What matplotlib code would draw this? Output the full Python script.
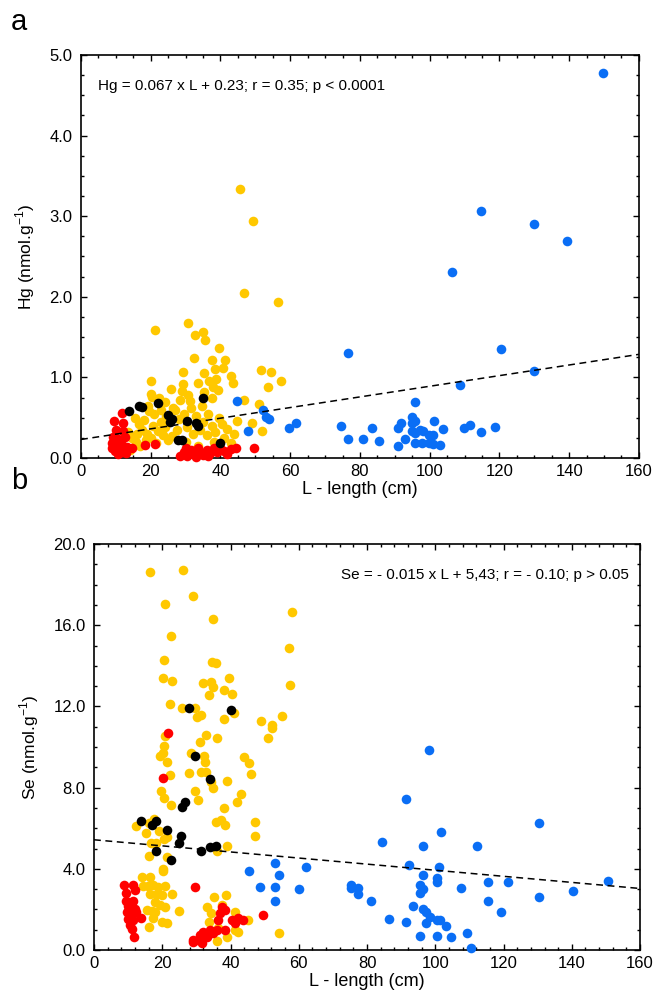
import matplotlib
matplotlib.use("Agg")
import matplotlib.pyplot as plt
from matplotlib.ticker import MultipleLocator, FormatStrFormatter

plt.rcParams["font.family"] = ["Liberation Sans", "DejaVu Sans"]

# ---- panel a: Hg vs length ----
a_yellow = [(45.6, 3.34), (49.3, 2.94), (46.7, 2.05), (56.6, 1.93), (21.1, 1.59), (30.8, 1.68),
            (32.8, 1.53), (34.9, 1.56), (35.6, 1.47), (39.7, 1.36), (32.4, 1.24), (37.6, 1.21),
            (41.2, 1.21), (40.8, 1.12), (38.4, 1.10), (29.2, 1.07), (35.2, 1.05), (51.7, 1.09),
            (54.5, 1.07), (42.9, 1.02), (20.1, 0.96), (38.7, 0.98), (36.8, 0.96), (33.6, 0.93),
            (29.3, 0.92), (43.7, 0.93), (57.3, 0.95), (53.7, 0.88), (25.9, 0.86), (37.8, 0.88),
            (39.2, 0.84), (29.0, 0.83), (35.3, 0.82), (20.1, 0.80), (30.8, 0.78), (20.4, 0.76),
            (37.6, 0.74), (22.4, 0.74), (46.8, 0.72), (31.3, 0.71), (34.8, 0.65), (19.3, 0.65),
            (51.0, 0.67), (51.8, 0.34), (48.9, 0.44), (44.8, 0.46), (26.0, 0.27),
            (15.5, 0.50), (16.5, 0.42), (17.5, 0.35), (18.2, 0.47), (19.0, 0.30), (20.5, 0.40),
            (21.0, 0.55), (22.0, 0.33), (23.0, 0.45), (24.0, 0.38), (14.5, 0.25), (15.8, 0.20),
            (17.0, 0.15), (18.5, 0.22), (20.0, 0.25), (21.5, 0.18), (23.5, 0.28), (24.5, 0.52),
            (27.0, 0.60), (28.0, 0.48), (29.5, 0.55), (30.5, 0.38), (31.5, 0.62), (32.0, 0.30),
            (33.0, 0.52), (34.0, 0.35), (35.0, 0.45), (36.0, 0.28), (36.5, 0.55), (37.5, 0.40),
            (38.5, 0.32), (39.5, 0.50), (40.5, 0.42), (41.0, 0.25), (42.0, 0.36), (43.0, 0.18),
            (30.0, 0.20), (33.5, 0.15), (27.5, 0.35), (26.5, 0.62), (22.8, 0.60), (19.5, 0.58),
            (16.0, 0.30), (13.5, 0.32), (25.0, 0.22), (38.0, 0.20), (44.0, 0.30), (28.5, 0.72),
            (24.0, 0.70), (12.5, 0.12), (14.0, 0.10)]
a_red = [(11.8, 0.56), (9.4, 0.46), (11.9, 0.44), (10.0, 0.35), (12.0, 0.33), (9.3, 0.26),
         (10.7, 0.24), (12.6, 0.26), (8.8, 0.18), (10.2, 0.16), (11.7, 0.16), (13.1, 0.14),
         (14.5, 0.12), (9.7, 0.09), (11.7, 0.08), (10.5, 0.05), (12.8, 0.06), (9.0, 0.12),
         (18.4, 0.16), (21.3, 0.17), (28.5, 0.03), (29.5, 0.08), (30.5, 0.02), (31.5, 0.10),
         (32.0, 0.05), (33.0, 0.01), (34.0, 0.08), (35.0, 0.04), (36.0, 0.10), (37.0, 0.06),
         (38.0, 0.12), (39.0, 0.07), (40.0, 0.13), (41.0, 0.09), (42.0, 0.05), (43.0, 0.11),
         (44.5, 0.13), (30.0, 0.12), (33.5, 0.12), (36.5, 0.02), (49.7, 0.12)]
a_black = [(13.9, 0.58), (16.7, 0.64), (17.4, 0.63), (22.2, 0.68), (35.1, 0.74), (25.0, 0.53),
           (26.0, 0.49), (25.5, 0.45), (27.9, 0.22), (28.9, 0.22), (30.5, 0.46), (33.0, 0.43),
           (33.6, 0.40), (39.9, 0.18)]
a_blue = [(149.6, 4.78), (114.6, 3.07), (129.9, 2.90), (139.5, 2.69), (106.5, 2.31), (76.7, 1.30),
          (120.5, 1.35), (129.9, 1.08), (108.6, 0.91), (95.7, 0.69), (59.7, 0.37), (61.7, 0.44),
          (74.6, 0.40), (76.7, 0.23), (80.8, 0.23), (83.5, 0.37), (85.5, 0.21), (90.8, 0.15),
          (90.8, 0.37), (91.7, 0.43), (92.8, 0.23), (94.8, 0.51), (95.7, 0.46), (94.8, 0.43),
          (94.8, 0.33), (95.7, 0.31), (97.2, 0.35), (98.0, 0.34), (95.7, 0.19), (97.7, 0.18),
          (99.8, 0.29), (101.0, 0.29), (99.8, 0.18), (101.0, 0.17), (102.9, 0.16), (101.2, 0.46),
          (103.7, 0.36), (109.7, 0.37), (111.7, 0.41), (114.6, 0.32), (118.6, 0.39), (44.8, 0.71),
          (52.2, 0.60), (53.0, 0.51), (53.8, 0.49), (48.0, 0.34)]
a_fit = (0.0066, 0.23)  # slope, intercept of drawn line
a_text = "Hg = 0.067 x L + 0.23; r = 0.35; p < 0.0001"

# ---- panel b: Se vs length ----
b_yellow = [(16.4, 18.62), (26.0, 18.70), (20.9, 17.04), (29.1, 17.45), (57.9, 16.63), (34.9, 16.29),
            (22.5, 15.45), (57.1, 14.89), (20.5, 14.29), (34.5, 14.2), (35.8, 14.12), (20.1, 13.38),
            (22.9, 13.24), (31.9, 13.17), (34.2, 13.19), (34.9, 12.97), (39.5, 13.38), (57.5, 13.04),
            (38.2, 12.82), (40.3, 12.61), (33.7, 12.55), (22.2, 12.13), (25.9, 11.94), (29.6, 11.94),
            (41.1, 11.66), (31.4, 11.59), (30.1, 11.46), (38.2, 11.38), (48.9, 11.30), (52.2, 11.10),
            (52.2, 10.95), (55.1, 11.51), (20.9, 10.54), (32.8, 10.61), (36.1, 10.46), (31.2, 10.26),
            (51.0, 10.46), (20.5, 10.05), (20.1, 9.72), (19.3, 9.57), (28.3, 9.72), (32.1, 9.57),
            (32.5, 9.28), (21.4, 9.28), (44.0, 9.51), (45.3, 9.2), (46.1, 8.67), (22.3, 8.62),
            (27.9, 8.70), (31.3, 8.78), (32.9, 8.78), (34.2, 8.3), (39.0, 8.31), (35.0, 7.97),
            (19.6, 7.83), (29.7, 7.83), (30.4, 7.39), (43.2, 7.70), (20.5, 7.47), (22.6, 7.14),
            (41.9, 7.27), (38.2, 7.0), (35.8, 6.32), (37.1, 6.40), (38.3, 6.16), (47.2, 6.31),
            (47.2, 5.62), (12.3, 6.11), (15.1, 5.75), (16.2, 6.24), (17.7, 6.44), (19.0, 5.85),
            (20.5, 5.48), (21.4, 5.58), (16.8, 5.29), (18.1, 5.29), (16.2, 4.65), (21.4, 4.60),
            (36.1, 4.86), (39.0, 5.12), (20.1, 3.97), (54.3, 0.85),
            (14.0, 3.58), (16.4, 3.58), (20.1, 3.91), (14.4, 3.15), (15.9, 3.15), (17.4, 3.2),
            (18.8, 3.1), (20.8, 3.15), (16.4, 2.76), (18.4, 2.76), (19.8, 2.7), (22.8, 2.76),
            (17.9, 2.38), (19.3, 2.22), (20.8, 2.13), (15.4, 1.95), (16.9, 1.9), (17.9, 1.85),
            (25.0, 1.94), (17.4, 1.56), (19.8, 1.39), (21.5, 1.31), (16.2, 1.12),
            (38.6, 2.71), (35.3, 2.6), (33.0, 2.13), (34.3, 1.81), (37.4, 2.22), (41.3, 1.89),
            (33.7, 1.39), (41.3, 0.99), (38.9, 0.66), (36.1, 0.44), (36.4, 1.07), (45.2, 1.48),
            (42.3, 0.90), (32.0, 0.82)]
b_red = [(21.7, 10.69), (20.1, 8.46), (8.8, 3.2), (11.3, 3.2), (9.4, 2.82), (12.0, 2.96),
         (9.4, 2.4), (11.5, 2.4), (10.1, 2.15), (12.0, 2.0), (9.6, 1.87), (11.0, 1.8),
         (12.4, 1.87), (13.8, 1.6), (10.1, 1.55), (11.5, 1.47), (10.5, 1.23), (11.0, 1.05),
         (11.8, 0.63), (29.1, 0.49), (29.6, 3.09), (49.6, 1.72),
         (37.4, 2.13), (38.4, 1.97), (36.9, 1.81), (36.4, 1.48), (40.3, 1.48), (42.3, 1.56),
         (43.8, 1.48), (41.3, 1.31), (38.4, 0.99), (35.9, 0.99), (34.0, 0.99), (32.0, 0.90),
         (31.1, 0.74), (30.6, 0.49), (29.1, 0.41), (31.6, 0.35), (35.0, 0.82), (33.0, 0.66)]
b_black = [(27.7, 11.92), (40.2, 11.81), (29.7, 9.57), (34.1, 8.42), (26.8, 7.31), (25.8, 7.06),
           (13.8, 6.35), (17.0, 6.16), (18.3, 6.37), (21.4, 5.91), (25.4, 5.62), (25.0, 5.26),
           (18.1, 4.86), (22.6, 4.43), (31.3, 4.86), (34.1, 5.06), (35.8, 5.12)]
b_blue = [(98.3, 9.84), (91.3, 7.42), (130.5, 6.24), (101.7, 5.83), (84.3, 5.34), (96.3, 5.12),
          (112.3, 5.12), (92.2, 4.17), (101.2, 4.09), (96.3, 3.68), (100.4, 3.56), (100.4, 3.33),
          (75.2, 3.2), (75.2, 3.04), (77.4, 3.07), (77.4, 2.76), (95.5, 3.2), (96.3, 2.99),
          (95.5, 2.79), (107.5, 3.07), (115.3, 3.33), (121.4, 3.33), (150.5, 3.40), (140.4, 2.91),
          (130.5, 2.63), (81.1, 2.41), (115.3, 2.41), (119.4, 1.87), (93.5, 2.15), (96.3, 2.0),
          (97.2, 1.87), (98.4, 1.64), (100.4, 1.46), (101.4, 1.46), (97.2, 1.31), (86.4, 1.53),
          (91.3, 1.39), (103.2, 1.18), (95.5, 0.71), (100.4, 0.71), (104.5, 0.63), (109.4, 0.84),
          (110.4, 0.08), (45.3, 3.89), (53.0, 4.30), (54.3, 3.68), (62.0, 4.10), (48.6, 3.12),
          (53.0, 3.12), (60.1, 2.99), (53.0, 2.43)]
b_fit = (-0.015, 5.43)
b_text = "Se = - 0.015 x L + 5,43; r = - 0.10; p > 0.05"

colors = {"yellow": "#FFC800", "red": "#FF0000", "black": "#000000", "blue": "#0A6EF5"}


def draw(ax, groups, fit, ymax, ymajor, yminor, xminor, ylabel, text, text_x, text_ha):
    for name, pts in groups:
        xs = [p[0] for p in pts]
        ys = [p[1] for p in pts]
        ax.scatter(xs, ys, s=48, color=colors[name], linewidths=0, zorder=3, clip_on=False)
    slope, icpt = fit
    ax.plot([0, 160], [icpt, icpt + slope * 160], color="black", lw=1.1,
            dashes=(4.5, 3), zorder=4)
    ax.set_xlim(0, 160)
    ax.set_ylim(0, ymax)
    ax.xaxis.set_major_locator(MultipleLocator(20))
    ax.xaxis.set_minor_locator(MultipleLocator(xminor))
    ax.yaxis.set_major_locator(MultipleLocator(ymajor))
    ax.yaxis.set_minor_locator(MultipleLocator(yminor))
    ax.yaxis.set_major_formatter(FormatStrFormatter("%.1f"))
    ax.tick_params(which="both", direction="in", top=True, right=True, labelsize=12, width=1)
    ax.tick_params(axis="y", pad=6)
    ax.tick_params(axis="x", pad=4)
    ax.tick_params(which="major", length=4)
    ax.tick_params(which="minor", length=2.5)
    for sp in ax.spines.values():
        sp.set_linewidth(1.2)
    ax.set_xlabel("L - length (cm)", fontsize=13, labelpad=2)
    ax.set_ylabel(ylabel, fontsize=12.5, labelpad=9)
    ax.text(text_x, 0.923, text, transform=ax.transAxes, fontsize=11, ha=text_ha, va="center")


fig = plt.figure(figsize=(6.54, 10), dpi=100)
ax1 = fig.add_axes([0.1239, 0.542, 0.853, 0.403])
ax2 = fig.add_axes([0.1437, 0.050, 0.835, 0.406])

draw(ax1, [("yellow", a_yellow), ("red", a_red), ("black", a_black), ("blue", a_blue)],
     a_fit, 5.0, 1.0, 0.25, 5, "Hg (nmol.g$^{\\mathregular{-1}}$)", a_text, 0.03, "left")
draw(ax2, [("yellow", b_yellow), ("red", b_red), ("black", b_black), ("blue", b_blue)],
     b_fit, 20.0, 4.0, 1.0, 4, "Se (nmol.g$^{\\mathregular{-1}}$)", b_text, 0.98, "right")

fig.text(0.017, 0.978, "a", fontsize=21, va="center")
fig.text(0.017, 0.519, "b", fontsize=21, va="center")

fig.savefig("out.png", dpi=100)
